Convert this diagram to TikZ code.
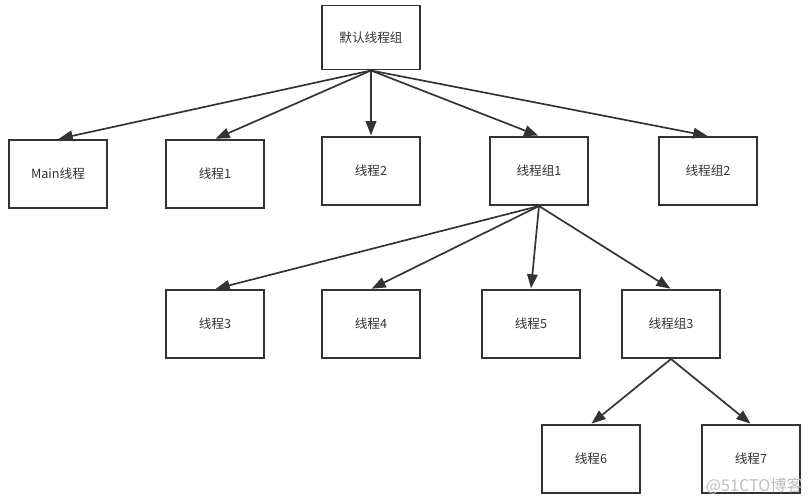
\documentclass[tikz,border=0pt]{standalone}
\usepackage{fontspec}
\setmainfont{Noto Sans CJK SC}
\usepackage{xcolor}
\usepackage{tikz}
\usetikzlibrary{arrows.meta}
\definecolor{linegray}{HTML}{333333}

\begin{document}
\begin{tikzpicture}[x=0.025cm,y=-0.025cm,
    box/.style={draw=linegray,line width=1.4pt,minimum width=2.45cm,minimum height=1.7cm,
        font=\fontsize{9}{11}\selectfont,text=linegray},
    link/.style={draw=linegray,line width=1.2pt,-{Triangle[length=10pt,width=7.5pt]},shorten >=0.5pt}]
        \useasboundingbox (0,0) rectangle (811,502);
        % Raíz
        \node[box,minimum height=1.6cm] (root) at (371,37.5) {默认线程组};
        % Primer nivel
        \node[box] (main) at (58,174) {Main线程};
        \node[box] (t1) at (215,174) {线程1};
        \node[box] (t2) at (371,171) {线程2};
        \node[box] (g1) at (539,171) {线程组1};
        \node[box] (g2) at (708,171) {线程组2};
        % Segundo nivel
        \node[box] (t3) at (215,324) {线程3};
        \node[box] (t4) at (371,324) {线程4};
        \node[box] (t5) at (531,324) {线程5};
        \node[box] (g3) at (671,324) {线程组3};
        % Tercer nivel
        \node[box] (t6) at (591,459) {线程6};
        \node[box] (t7) at (751,459) {线程7};
        % Flechas
        \foreach \c in {main,t1,t2,g1,g2} {
            \draw[link] (root.south) -- (\c.north);
        }
        \foreach \c in {t3,t4,t5,g3} {
            \draw[link] (g1.south) -- (\c.north);
        }
        \foreach \c in {t6,t7} {
            \draw[link] (g3.south) -- (\c.north);
        }
        % Marca de agua
        \node[text=black!25,font=\fontsize{11.5}{13}\selectfont,anchor=east,inner sep=0pt] (mark) at (803,486) {@51CTO博客};
    \end{tikzpicture}
\end{document}
